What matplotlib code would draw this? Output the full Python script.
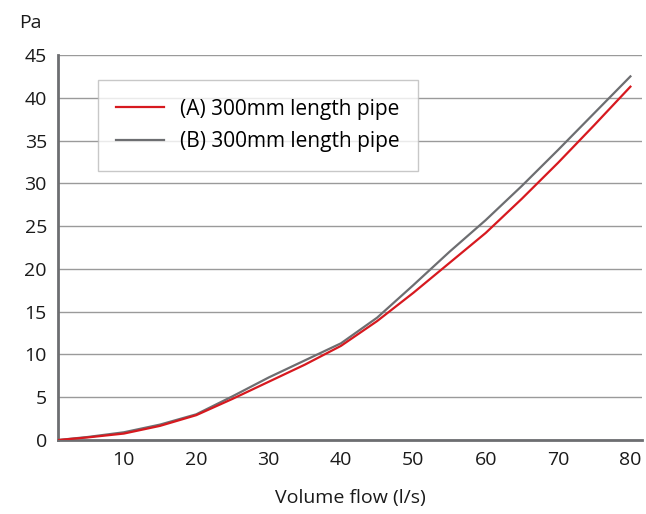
import matplotlib.pyplot as plt

plt.rcParams['font.family'] = ['Open Sans', 'DejaVu Sans']

# data
flow = [1, 5, 10, 15, 20, 25, 30, 35, 40, 45, 50, 55, 60, 65, 70, 75, 80]
pipe_a = [0, 0.3, 0.75, 1.65, 2.9, 4.8, 6.8, 8.8, 11.0, 13.9, 17.2, 20.7, 24.2, 28.2, 32.4, 36.8, 41.3]
pipe_b = [0, 0.35, 0.9, 1.8, 3.0, 5.1, 7.3, 9.3, 11.3, 14.3, 18.1, 22.0, 25.7, 29.7, 33.9, 38.2, 42.5]
xticks = [10, 20, 30, 40, 50, 60, 70, 80]
yticks = [0, 5, 10, 15, 20, 25, 30, 35, 40, 45]

fig = plt.figure(figsize=(6.46, 5.14), dpi=100)
ax = fig.add_axes([0.0898, 0.144, 0.904, 0.749])

ax.plot(flow, pipe_a, color='#d7191f', lw=1.6, label='(A) 300mm length pipe', zorder=3)
ax.plot(flow, pipe_b, color='#6d6e71', lw=1.6, label='(B) 300mm length pipe', zorder=2)

ax.set_xlim(0.9, 81.6)
ax.set_ylim(0, 45)
ax.set_xticks(xticks)
ax.set_yticks(yticks)
ax.tick_params(length=0, labelsize=14, colors='#1a1a1a', pad=8)
ax.grid(axis='y', color='#9a9a9a', lw=1)
ax.set_axisbelow(True)

for s in ['top', 'right']:
    ax.spines[s].set_visible(False)
for s in ['left', 'bottom']:
    ax.spines[s].set_color('#6d6e71')
    ax.spines[s].set_linewidth(2)

ax.set_xlabel('Volume flow (l/s)', fontsize=14, color='#1a1a1a', labelpad=14)
fig.text(0.029, 0.955, 'Pa', fontsize=14, color='#1a1a1a', va='center')

leg = ax.legend(loc='upper left', bbox_to_anchor=(0.068, 0.935), fontsize=15,
                frameon=True, fancybox=False, handlelength=2.3, handletextpad=0.75,
                borderpad=0.9, labelspacing=0.55, borderaxespad=0)
leg.get_frame().set_edgecolor('#bbbbbb')
leg.get_frame().set_linewidth(1)

plt.savefig('out.png', dpi=100)
